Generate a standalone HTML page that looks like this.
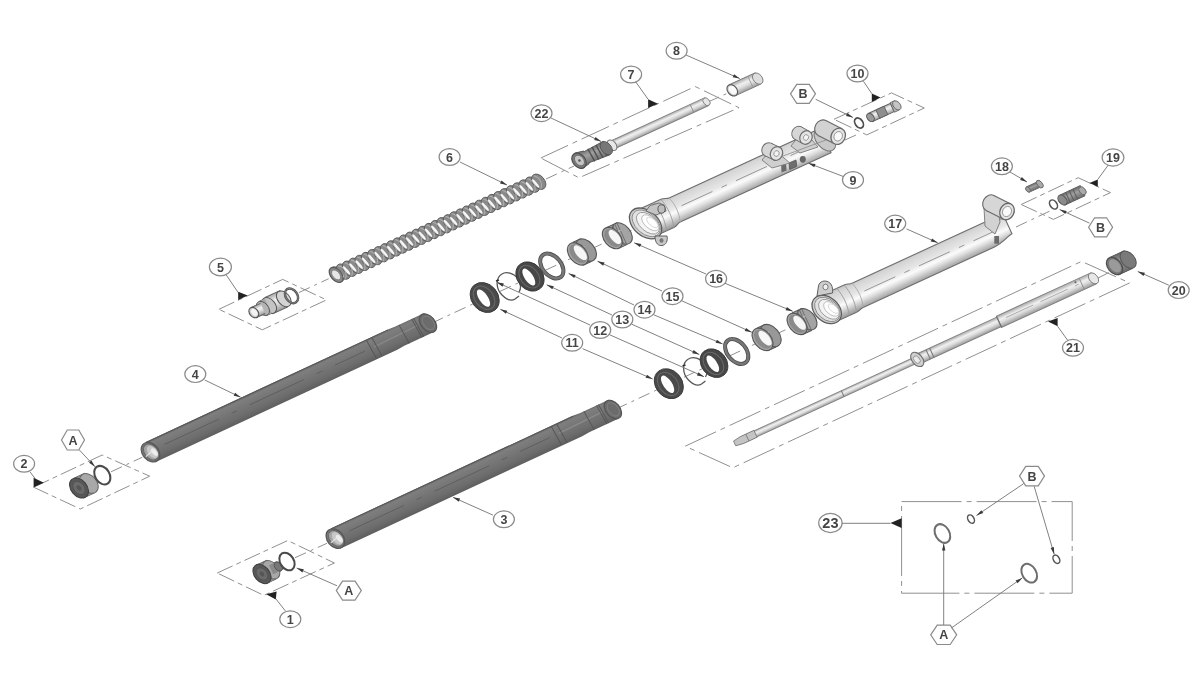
<!DOCTYPE html>
<html><head><meta charset="utf-8"><style>
html,body{margin:0;padding:0;background:#fff;width:1200px;height:685px;overflow:hidden;font-family:"Liberation Sans",sans-serif}
svg{display:block;filter:blur(0.6px)}
</style></head><body>
<svg width="1200" height="685" viewBox="0 0 1200 685" font-family="Liberation Sans, sans-serif">
<defs>
<linearGradient id="dk" x1="0" y1="0" x2="0" y2="1">
<stop offset="0" stop-color="#666"/><stop offset="0.12" stop-color="#7e7e7e"/><stop offset="0.4" stop-color="#767676"/><stop offset="0.75" stop-color="#6c6c6c"/><stop offset="1" stop-color="#5e5e5e"/>
</linearGradient>
<linearGradient id="lt" x1="0" y1="0" x2="0" y2="1">
<stop offset="0" stop-color="#c4c4c4"/><stop offset="0.15" stop-color="#d6d6d6"/><stop offset="0.42" stop-color="#e6e6e6"/><stop offset="0.58" stop-color="#fbfbfb"/><stop offset="0.7" stop-color="#e2e2e2"/><stop offset="0.86" stop-color="#b8b8b8"/><stop offset="1" stop-color="#989898"/>
</linearGradient>
<linearGradient id="ltr" x1="0" y1="0" x2="0" y2="1">
<stop offset="0" stop-color="#a8a8a8"/><stop offset="0.35" stop-color="#f0f0f0"/><stop offset="0.6" stop-color="#dcdcdc"/><stop offset="1" stop-color="#9a9a9a"/>
</linearGradient>
<linearGradient id="gr" x1="0" y1="0" x2="0" y2="1">
<stop offset="0" stop-color="#6a6a6a"/><stop offset="0.4" stop-color="#a0a0a0"/><stop offset="1" stop-color="#6a6a6a"/>
</linearGradient>
</defs>
<rect width="1200" height="685" fill="#fff"/>
<line x1="111" y1="471.8" x2="142.4" y2="457.2" stroke="#909090" stroke-width="1" stroke-dasharray="12 5 3 5"/>
<line x1="295" y1="557.7" x2="327" y2="543.3" stroke="#909090" stroke-width="1" stroke-dasharray="12 5 3 5"/>
<line x1="298.8" y1="292.6" x2="328.7" y2="278.7" stroke="#909090" stroke-width="1" stroke-dasharray="12 5 3 5"/>
<line x1="546" y1="179" x2="574" y2="166" stroke="#909090" stroke-width="1" stroke-dasharray="12 5 3 5"/>
<line x1="708" y1="102" x2="728" y2="93" stroke="#909090" stroke-width="1" stroke-dasharray="12 5 3 5"/>
<line x1="432" y1="323" x2="632" y2="230" stroke="#909090" stroke-width="1" stroke-dasharray="12 5 3 5"/>
<line x1="616" y1="409" x2="815" y2="316" stroke="#909090" stroke-width="1" stroke-dasharray="12 5 3 5"/>
<line x1="845" y1="140" x2="856" y2="135" stroke="#909090" stroke-width="1" stroke-dasharray="12 5 3 5"/>
<line x1="1016" y1="227" x2="1050" y2="211" stroke="#909090" stroke-width="1" stroke-dasharray="12 5 3 5"/>
<line x1="1098" y1="278" x2="1112" y2="271" stroke="#909090" stroke-width="1" stroke-dasharray="12 5 3 5"/>
<polygon points="33.6,487.2 102.2,455 149.7,476.2 80.3,509" fill="none" stroke="#909090" stroke-width="1" stroke-dasharray="17 4 5 4"/>
<polygon points="217.2,573 287.8,540.5 334.4,563 263.8,595.4" fill="none" stroke="#909090" stroke-width="1" stroke-dasharray="17 4 5 4"/>
<polygon points="218.9,309.3 282.7,279.4 326.5,299.9 262.3,329.8" fill="none" stroke="#909090" stroke-width="1" stroke-dasharray="17 4 5 4"/>
<polygon points="540.8,158 695.2,86.5 739,107.7 579,177.8" fill="none" stroke="#909090" stroke-width="1" stroke-dasharray="30 5 5 5"/>
<polygon points="834,119.3 891.5,92.9 924.3,108 866.8,134.9" fill="none" stroke="#909090" stroke-width="1" stroke-dasharray="17 4 5 4"/>
<polygon points="1021.2,204.5 1078.2,177.7 1110.5,192.6 1053.4,219.4" fill="none" stroke="#909090" stroke-width="1" stroke-dasharray="17 4 5 4"/>
<polygon points="685.2,446.2 1081.5,261.4 1129.7,282.9 732.8,467.8" fill="none" stroke="#909090" stroke-width="1" stroke-dasharray="34 5 5 5"/>
<rect x="901.6" y="501.6" width="170.6" height="91.6" fill="none" stroke="#909090" stroke-width="1" stroke-dasharray="60 5 5 5"/>
<g transform="translate(150.5,452.2) rotate(-24.95)">
<path d="M0,-11.2 L267,-11.2 L275,-10.6 L307,-10.6 L307,10.6 L275,10.6 L267,11.2 L0,11.2 Z" fill="url(#dk)"/>
<line x1="0" y1="-10.7" x2="267" y2="-10.7" stroke="#585858" stroke-width="1"/>
<line x1="16" y1="-1.1199999999999999" x2="237" y2="-1.1199999999999999" stroke="#585858" stroke-width="0.7" stroke-dasharray="60 14 6 14"/>
<line x1="247" y1="-1.1199999999999999" x2="295" y2="-2.2399999999999998" stroke="#8a8a8a" stroke-width="1.2"/>
<line x1="243" y1="-10.6" x2="244.5" y2="10.6" stroke="#555" stroke-width="0.9"/>
<line x1="249" y1="-10.6" x2="250.5" y2="10.6" stroke="#555" stroke-width="0.9"/>
<line x1="279" y1="-10.6" x2="280.5" y2="10.6" stroke="#555" stroke-width="0.9"/>
<line x1="293" y1="-10.6" x2="294.5" y2="10.6" stroke="#555" stroke-width="0.9"/>
<line x1="295" y1="-10.6" x2="296.5" y2="10.6" stroke="#555" stroke-width="0.9"/>
<ellipse cx="306.00" cy="0.00" rx="10.60" ry="7.00" transform="rotate(74.7 306.00 0.00)" fill="#6c6c6c" stroke="#555" stroke-width="1.2" />
<ellipse cx="306.50" cy="0.00" rx="7.63" ry="4.88" transform="rotate(74.7 306.50 0.00)" fill="none" stroke="#7e7e7e" stroke-width="1" />
<ellipse cx="0.00" cy="0.00" rx="10.86" ry="8.06" transform="rotate(74.7 0.00 0.00)" fill="#767676" stroke="#555" stroke-width="1.2" />
<ellipse cx="0.50" cy="0.00" rx="8.96" ry="6.27" transform="rotate(74.7 0.50 0.00)" fill="#a4a4a4" stroke="#666" stroke-width="1" />
<ellipse cx="2.00" cy="0.60" rx="7.17" ry="4.48" transform="rotate(74.7 2.00 0.60)" fill="#c8c8c8" stroke="none" stroke-width="1" />
<ellipse cx="3.50" cy="1.60" rx="4.48" ry="2.24" transform="rotate(74.7 3.50 1.60)" fill="#ededed" stroke="none" stroke-width="1" />
<line x1="-6" y1="2" x2="4" y2="-1" stroke="#e8e8e8" stroke-width="1"/>
</g>
<g transform="translate(335.4,538.6) rotate(-24.95)">
<path d="M0,-11.2 L267,-11.2 L275,-10.6 L307,-10.6 L307,10.6 L275,10.6 L267,11.2 L0,11.2 Z" fill="url(#dk)"/>
<line x1="0" y1="-10.7" x2="267" y2="-10.7" stroke="#585858" stroke-width="1"/>
<line x1="16" y1="-1.1199999999999999" x2="237" y2="-1.1199999999999999" stroke="#585858" stroke-width="0.7" stroke-dasharray="60 14 6 14"/>
<line x1="247" y1="-1.1199999999999999" x2="295" y2="-2.2399999999999998" stroke="#8a8a8a" stroke-width="1.2"/>
<line x1="243" y1="-10.6" x2="244.5" y2="10.6" stroke="#555" stroke-width="0.9"/>
<line x1="249" y1="-10.6" x2="250.5" y2="10.6" stroke="#555" stroke-width="0.9"/>
<line x1="279" y1="-10.6" x2="280.5" y2="10.6" stroke="#555" stroke-width="0.9"/>
<line x1="293" y1="-10.6" x2="294.5" y2="10.6" stroke="#555" stroke-width="0.9"/>
<line x1="295" y1="-10.6" x2="296.5" y2="10.6" stroke="#555" stroke-width="0.9"/>
<ellipse cx="306.00" cy="0.00" rx="10.60" ry="7.00" transform="rotate(74.7 306.00 0.00)" fill="#6c6c6c" stroke="#555" stroke-width="1.2" />
<ellipse cx="306.50" cy="0.00" rx="7.63" ry="4.88" transform="rotate(74.7 306.50 0.00)" fill="none" stroke="#7e7e7e" stroke-width="1" />
<ellipse cx="0.00" cy="0.00" rx="10.86" ry="8.06" transform="rotate(74.7 0.00 0.00)" fill="#767676" stroke="#555" stroke-width="1.2" />
<ellipse cx="0.50" cy="0.00" rx="8.96" ry="6.27" transform="rotate(74.7 0.50 0.00)" fill="#a4a4a4" stroke="#666" stroke-width="1" />
<ellipse cx="2.00" cy="0.60" rx="7.17" ry="4.48" transform="rotate(74.7 2.00 0.60)" fill="#c8c8c8" stroke="none" stroke-width="1" />
<ellipse cx="3.50" cy="1.60" rx="4.48" ry="2.24" transform="rotate(74.7 3.50 1.60)" fill="#ededed" stroke="none" stroke-width="1" />
<line x1="-6" y1="2" x2="4" y2="-1" stroke="#e8e8e8" stroke-width="1"/>
</g>
<g transform="translate(337,274.5) rotate(-24.7)">
<ellipse cx="0.00" cy="0.00" rx="8.70" ry="5.90" transform="rotate(74.7 0.00 0.00)" fill="#8a8a8a" stroke="#5a5a5a" stroke-width="0.9" />
<ellipse cx="6.94" cy="0.00" rx="8.70" ry="5.90" transform="rotate(74.7 6.94 0.00)" fill="#8a8a8a" stroke="#5a5a5a" stroke-width="0.9" />
<ellipse cx="13.88" cy="0.00" rx="8.70" ry="5.90" transform="rotate(74.7 13.88 0.00)" fill="#8a8a8a" stroke="#5a5a5a" stroke-width="0.9" />
<ellipse cx="20.81" cy="0.00" rx="8.70" ry="5.90" transform="rotate(74.7 20.81 0.00)" fill="#8a8a8a" stroke="#5a5a5a" stroke-width="0.9" />
<ellipse cx="27.75" cy="0.00" rx="8.70" ry="5.90" transform="rotate(74.7 27.75 0.00)" fill="#8a8a8a" stroke="#5a5a5a" stroke-width="0.9" />
<ellipse cx="34.69" cy="0.00" rx="8.70" ry="5.90" transform="rotate(74.7 34.69 0.00)" fill="#8a8a8a" stroke="#5a5a5a" stroke-width="0.9" />
<ellipse cx="41.62" cy="0.00" rx="8.70" ry="5.90" transform="rotate(74.7 41.62 0.00)" fill="#8a8a8a" stroke="#5a5a5a" stroke-width="0.9" />
<ellipse cx="48.56" cy="0.00" rx="8.70" ry="5.90" transform="rotate(74.7 48.56 0.00)" fill="#8a8a8a" stroke="#5a5a5a" stroke-width="0.9" />
<ellipse cx="55.50" cy="0.00" rx="8.70" ry="5.90" transform="rotate(74.7 55.50 0.00)" fill="#8a8a8a" stroke="#5a5a5a" stroke-width="0.9" />
<ellipse cx="62.44" cy="0.00" rx="8.70" ry="5.90" transform="rotate(74.7 62.44 0.00)" fill="#8a8a8a" stroke="#5a5a5a" stroke-width="0.9" />
<ellipse cx="69.38" cy="0.00" rx="8.70" ry="5.90" transform="rotate(74.7 69.38 0.00)" fill="#8a8a8a" stroke="#5a5a5a" stroke-width="0.9" />
<ellipse cx="76.31" cy="0.00" rx="8.70" ry="5.90" transform="rotate(74.7 76.31 0.00)" fill="#8a8a8a" stroke="#5a5a5a" stroke-width="0.9" />
<ellipse cx="83.25" cy="0.00" rx="8.70" ry="5.90" transform="rotate(74.7 83.25 0.00)" fill="#8a8a8a" stroke="#5a5a5a" stroke-width="0.9" />
<ellipse cx="90.19" cy="0.00" rx="8.70" ry="5.90" transform="rotate(74.7 90.19 0.00)" fill="#8a8a8a" stroke="#5a5a5a" stroke-width="0.9" />
<ellipse cx="97.12" cy="0.00" rx="8.70" ry="5.90" transform="rotate(74.7 97.12 0.00)" fill="#8a8a8a" stroke="#5a5a5a" stroke-width="0.9" />
<ellipse cx="104.06" cy="0.00" rx="8.70" ry="5.90" transform="rotate(74.7 104.06 0.00)" fill="#8a8a8a" stroke="#5a5a5a" stroke-width="0.9" />
<ellipse cx="111.00" cy="0.00" rx="8.70" ry="5.90" transform="rotate(74.7 111.00 0.00)" fill="#8a8a8a" stroke="#5a5a5a" stroke-width="0.9" />
<ellipse cx="117.94" cy="0.00" rx="8.70" ry="5.90" transform="rotate(74.7 117.94 0.00)" fill="#8a8a8a" stroke="#5a5a5a" stroke-width="0.9" />
<ellipse cx="124.88" cy="0.00" rx="8.70" ry="5.90" transform="rotate(74.7 124.88 0.00)" fill="#8a8a8a" stroke="#5a5a5a" stroke-width="0.9" />
<ellipse cx="131.81" cy="0.00" rx="8.70" ry="5.90" transform="rotate(74.7 131.81 0.00)" fill="#8a8a8a" stroke="#5a5a5a" stroke-width="0.9" />
<ellipse cx="138.75" cy="0.00" rx="8.70" ry="5.90" transform="rotate(74.7 138.75 0.00)" fill="#8a8a8a" stroke="#5a5a5a" stroke-width="0.9" />
<ellipse cx="145.69" cy="0.00" rx="8.70" ry="5.90" transform="rotate(74.7 145.69 0.00)" fill="#8a8a8a" stroke="#5a5a5a" stroke-width="0.9" />
<ellipse cx="152.62" cy="0.00" rx="8.70" ry="5.90" transform="rotate(74.7 152.62 0.00)" fill="#8a8a8a" stroke="#5a5a5a" stroke-width="0.9" />
<ellipse cx="159.56" cy="0.00" rx="8.70" ry="5.90" transform="rotate(74.7 159.56 0.00)" fill="#8a8a8a" stroke="#5a5a5a" stroke-width="0.9" />
<ellipse cx="166.50" cy="0.00" rx="8.70" ry="5.90" transform="rotate(74.7 166.50 0.00)" fill="#8a8a8a" stroke="#5a5a5a" stroke-width="0.9" />
<ellipse cx="173.44" cy="0.00" rx="8.70" ry="5.90" transform="rotate(74.7 173.44 0.00)" fill="#8a8a8a" stroke="#5a5a5a" stroke-width="0.9" />
<ellipse cx="180.38" cy="0.00" rx="8.70" ry="5.90" transform="rotate(74.7 180.38 0.00)" fill="#8a8a8a" stroke="#5a5a5a" stroke-width="0.9" />
<ellipse cx="187.31" cy="0.00" rx="8.70" ry="5.90" transform="rotate(74.7 187.31 0.00)" fill="#8a8a8a" stroke="#5a5a5a" stroke-width="0.9" />
<ellipse cx="194.25" cy="0.00" rx="8.70" ry="5.90" transform="rotate(74.7 194.25 0.00)" fill="#8a8a8a" stroke="#5a5a5a" stroke-width="0.9" />
<ellipse cx="201.19" cy="0.00" rx="8.70" ry="5.90" transform="rotate(74.7 201.19 0.00)" fill="#8a8a8a" stroke="#5a5a5a" stroke-width="0.9" />
<ellipse cx="208.12" cy="0.00" rx="8.70" ry="5.90" transform="rotate(74.7 208.12 0.00)" fill="#8a8a8a" stroke="#5a5a5a" stroke-width="0.9" />
<ellipse cx="215.06" cy="0.00" rx="8.70" ry="5.90" transform="rotate(74.7 215.06 0.00)" fill="#8a8a8a" stroke="#5a5a5a" stroke-width="0.9" />
<ellipse cx="222.00" cy="0.00" rx="8.70" ry="5.90" transform="rotate(74.7 222.00 0.00)" fill="#8a8a8a" stroke="#5a5a5a" stroke-width="0.9" />
<path d="M-2.1,-7.499999999999999 C3.5,-3.5 2.8,4.3 -1.4,7.499999999999999" fill="none" stroke="#adadad" stroke-width="1.1"/>
<path d="M4.9,-7.499999999999999 C10.4,-3.5 9.7,4.3 5.5,7.499999999999999" fill="none" stroke="#adadad" stroke-width="1.1"/>
<path d="M11.8,-7.499999999999999 C17.3,-3.5 16.6,4.3 12.5,7.499999999999999" fill="none" stroke="#adadad" stroke-width="1.1"/>
<path d="M18.7,-7.499999999999999 C24.3,-3.5 23.6,4.3 19.4,7.499999999999999" fill="none" stroke="#adadad" stroke-width="1.1"/>
<path d="M25.7,-7.499999999999999 C31.2,-3.5 30.5,4.3 26.4,7.499999999999999" fill="none" stroke="#adadad" stroke-width="1.1"/>
<path d="M32.6,-7.499999999999999 C38.2,-3.5 37.5,4.3 33.3,7.499999999999999" fill="none" stroke="#adadad" stroke-width="1.1"/>
<path d="M39.5,-7.499999999999999 C45.1,-3.5 44.4,4.3 40.2,7.499999999999999" fill="none" stroke="#adadad" stroke-width="1.1"/>
<path d="M46.5,-7.499999999999999 C52.0,-3.5 51.3,4.3 47.2,7.499999999999999" fill="none" stroke="#adadad" stroke-width="1.1"/>
<path d="M53.4,-7.499999999999999 C59.0,-3.5 58.3,4.3 54.1,7.499999999999999" fill="none" stroke="#adadad" stroke-width="1.1"/>
<path d="M60.4,-7.499999999999999 C65.9,-3.5 65.2,4.3 61.0,7.499999999999999" fill="none" stroke="#adadad" stroke-width="1.1"/>
<path d="M67.3,-7.499999999999999 C72.8,-3.5 72.2,4.3 68.0,7.499999999999999" fill="none" stroke="#adadad" stroke-width="1.1"/>
<path d="M74.2,-7.499999999999999 C79.8,-3.5 79.1,4.3 74.9,7.499999999999999" fill="none" stroke="#adadad" stroke-width="1.1"/>
<path d="M81.2,-7.499999999999999 C86.7,-3.5 86.0,4.3 81.9,7.499999999999999" fill="none" stroke="#adadad" stroke-width="1.1"/>
<path d="M88.1,-7.499999999999999 C93.7,-3.5 93.0,4.3 88.8,7.499999999999999" fill="none" stroke="#adadad" stroke-width="1.1"/>
<path d="M95.0,-7.499999999999999 C100.6,-3.5 99.9,4.3 95.7,7.499999999999999" fill="none" stroke="#adadad" stroke-width="1.1"/>
<path d="M102.0,-7.499999999999999 C107.5,-3.5 106.8,4.3 102.7,7.499999999999999" fill="none" stroke="#adadad" stroke-width="1.1"/>
<path d="M108.9,-7.499999999999999 C114.5,-3.5 113.8,4.3 109.6,7.499999999999999" fill="none" stroke="#adadad" stroke-width="1.1"/>
<path d="M115.9,-7.499999999999999 C121.4,-3.5 120.7,4.3 116.5,7.499999999999999" fill="none" stroke="#adadad" stroke-width="1.1"/>
<path d="M122.8,-7.499999999999999 C128.3,-3.5 127.7,4.3 123.5,7.499999999999999" fill="none" stroke="#adadad" stroke-width="1.1"/>
<path d="M129.7,-7.499999999999999 C135.3,-3.5 134.6,4.3 130.4,7.499999999999999" fill="none" stroke="#adadad" stroke-width="1.1"/>
<path d="M136.7,-7.499999999999999 C142.2,-3.5 141.5,4.3 137.4,7.499999999999999" fill="none" stroke="#adadad" stroke-width="1.1"/>
<path d="M143.6,-7.499999999999999 C149.2,-3.5 148.5,4.3 144.3,7.499999999999999" fill="none" stroke="#adadad" stroke-width="1.1"/>
<path d="M150.5,-7.499999999999999 C156.1,-3.5 155.4,4.3 151.2,7.499999999999999" fill="none" stroke="#adadad" stroke-width="1.1"/>
<path d="M157.5,-7.499999999999999 C163.0,-3.5 162.3,4.3 158.2,7.499999999999999" fill="none" stroke="#adadad" stroke-width="1.1"/>
<path d="M164.4,-7.499999999999999 C170.0,-3.5 169.3,4.3 165.1,7.499999999999999" fill="none" stroke="#adadad" stroke-width="1.1"/>
<path d="M171.4,-7.499999999999999 C176.9,-3.5 176.2,4.3 172.1,7.499999999999999" fill="none" stroke="#adadad" stroke-width="1.1"/>
<path d="M178.3,-7.499999999999999 C183.8,-3.5 183.2,4.3 179.0,7.499999999999999" fill="none" stroke="#adadad" stroke-width="1.1"/>
<path d="M185.2,-7.499999999999999 C190.8,-3.5 190.1,4.3 185.9,7.499999999999999" fill="none" stroke="#adadad" stroke-width="1.1"/>
<path d="M192.2,-7.499999999999999 C197.7,-3.5 197.0,4.3 192.9,7.499999999999999" fill="none" stroke="#adadad" stroke-width="1.1"/>
<path d="M199.1,-7.499999999999999 C204.7,-3.5 204.0,4.3 199.8,7.499999999999999" fill="none" stroke="#adadad" stroke-width="1.1"/>
<path d="M206.0,-7.499999999999999 C211.6,-3.5 210.9,4.3 206.7,7.499999999999999" fill="none" stroke="#adadad" stroke-width="1.1"/>
<path d="M213.0,-7.499999999999999 C218.5,-3.5 217.8,4.3 213.7,7.499999999999999" fill="none" stroke="#adadad" stroke-width="1.1"/>
<path d="M219.9,-7.499999999999999 C225.5,-3.5 224.8,4.3 220.6,7.499999999999999" fill="none" stroke="#adadad" stroke-width="1.1"/>
<ellipse cx="3.47" cy="0.30" rx="5.39" ry="1.25" transform="rotate(74.7 3.47 0.30)" fill="#f6f6f6" stroke="none" stroke-width="1" />
<ellipse cx="10.41" cy="0.30" rx="5.39" ry="1.25" transform="rotate(74.7 10.41 0.30)" fill="#f6f6f6" stroke="none" stroke-width="1" />
<ellipse cx="17.34" cy="0.30" rx="5.39" ry="1.25" transform="rotate(74.7 17.34 0.30)" fill="#f6f6f6" stroke="none" stroke-width="1" />
<ellipse cx="24.28" cy="0.30" rx="5.39" ry="1.25" transform="rotate(74.7 24.28 0.30)" fill="#f6f6f6" stroke="none" stroke-width="1" />
<ellipse cx="31.22" cy="0.30" rx="5.39" ry="1.25" transform="rotate(74.7 31.22 0.30)" fill="#f6f6f6" stroke="none" stroke-width="1" />
<ellipse cx="38.16" cy="0.30" rx="5.39" ry="1.25" transform="rotate(74.7 38.16 0.30)" fill="#f6f6f6" stroke="none" stroke-width="1" />
<ellipse cx="45.09" cy="0.30" rx="5.39" ry="1.25" transform="rotate(74.7 45.09 0.30)" fill="#f6f6f6" stroke="none" stroke-width="1" />
<ellipse cx="52.03" cy="0.30" rx="5.39" ry="1.25" transform="rotate(74.7 52.03 0.30)" fill="#f6f6f6" stroke="none" stroke-width="1" />
<ellipse cx="58.97" cy="0.30" rx="5.39" ry="1.25" transform="rotate(74.7 58.97 0.30)" fill="#f6f6f6" stroke="none" stroke-width="1" />
<ellipse cx="65.91" cy="0.30" rx="5.39" ry="1.25" transform="rotate(74.7 65.91 0.30)" fill="#f6f6f6" stroke="none" stroke-width="1" />
<ellipse cx="72.84" cy="0.30" rx="5.39" ry="1.25" transform="rotate(74.7 72.84 0.30)" fill="#f6f6f6" stroke="none" stroke-width="1" />
<ellipse cx="79.78" cy="0.30" rx="5.39" ry="1.25" transform="rotate(74.7 79.78 0.30)" fill="#f6f6f6" stroke="none" stroke-width="1" />
<ellipse cx="86.72" cy="0.30" rx="5.39" ry="1.25" transform="rotate(74.7 86.72 0.30)" fill="#f6f6f6" stroke="none" stroke-width="1" />
<ellipse cx="93.66" cy="0.30" rx="5.39" ry="1.25" transform="rotate(74.7 93.66 0.30)" fill="#f6f6f6" stroke="none" stroke-width="1" />
<ellipse cx="100.59" cy="0.30" rx="5.39" ry="1.25" transform="rotate(74.7 100.59 0.30)" fill="#f6f6f6" stroke="none" stroke-width="1" />
<ellipse cx="107.53" cy="0.30" rx="5.39" ry="1.25" transform="rotate(74.7 107.53 0.30)" fill="#f6f6f6" stroke="none" stroke-width="1" />
<ellipse cx="114.47" cy="0.30" rx="5.39" ry="1.25" transform="rotate(74.7 114.47 0.30)" fill="#f6f6f6" stroke="none" stroke-width="1" />
<ellipse cx="121.41" cy="0.30" rx="5.39" ry="1.25" transform="rotate(74.7 121.41 0.30)" fill="#f6f6f6" stroke="none" stroke-width="1" />
<ellipse cx="128.34" cy="0.30" rx="5.39" ry="1.25" transform="rotate(74.7 128.34 0.30)" fill="#f6f6f6" stroke="none" stroke-width="1" />
<ellipse cx="135.28" cy="0.30" rx="5.39" ry="1.25" transform="rotate(74.7 135.28 0.30)" fill="#f6f6f6" stroke="none" stroke-width="1" />
<ellipse cx="142.22" cy="0.30" rx="5.39" ry="1.25" transform="rotate(74.7 142.22 0.30)" fill="#f6f6f6" stroke="none" stroke-width="1" />
<ellipse cx="149.16" cy="0.30" rx="5.39" ry="1.25" transform="rotate(74.7 149.16 0.30)" fill="#f6f6f6" stroke="none" stroke-width="1" />
<ellipse cx="156.09" cy="0.30" rx="5.39" ry="1.25" transform="rotate(74.7 156.09 0.30)" fill="#f6f6f6" stroke="none" stroke-width="1" />
<ellipse cx="163.03" cy="0.30" rx="5.39" ry="1.25" transform="rotate(74.7 163.03 0.30)" fill="#f6f6f6" stroke="none" stroke-width="1" />
<ellipse cx="169.97" cy="0.30" rx="5.39" ry="1.25" transform="rotate(74.7 169.97 0.30)" fill="#f6f6f6" stroke="none" stroke-width="1" />
<ellipse cx="176.91" cy="0.30" rx="5.39" ry="1.25" transform="rotate(74.7 176.91 0.30)" fill="#f6f6f6" stroke="none" stroke-width="1" />
<ellipse cx="183.84" cy="0.30" rx="5.39" ry="1.25" transform="rotate(74.7 183.84 0.30)" fill="#f6f6f6" stroke="none" stroke-width="1" />
<ellipse cx="190.78" cy="0.30" rx="5.39" ry="1.25" transform="rotate(74.7 190.78 0.30)" fill="#f6f6f6" stroke="none" stroke-width="1" />
<ellipse cx="197.72" cy="0.30" rx="5.39" ry="1.25" transform="rotate(74.7 197.72 0.30)" fill="#f6f6f6" stroke="none" stroke-width="1" />
<ellipse cx="204.66" cy="0.30" rx="5.39" ry="1.25" transform="rotate(74.7 204.66 0.30)" fill="#f6f6f6" stroke="none" stroke-width="1" />
<ellipse cx="211.59" cy="0.30" rx="5.39" ry="1.25" transform="rotate(74.7 211.59 0.30)" fill="#f6f6f6" stroke="none" stroke-width="1" />
<ellipse cx="218.53" cy="0.30" rx="5.39" ry="1.25" transform="rotate(74.7 218.53 0.30)" fill="#f6f6f6" stroke="none" stroke-width="1" />
<ellipse cx="-1.00" cy="0.00" rx="8.70" ry="5.39" transform="rotate(74.7 -1.00 0.00)" fill="#8a8a8a" stroke="#555" stroke-width="1.1" />
<ellipse cx="-1.00" cy="0.00" rx="5.74" ry="3.48" transform="rotate(74.7 -1.00 0.00)" fill="#e6e6e6" stroke="#777" stroke-width="0.8" />
</g>
<g transform="translate(645.6,223.4) rotate(-24.7)">
<path d="M0,-15.5 L24,-15.5 C28,-15.5 29,-13.3 32,-13.3 L198,-13.3 L198,13.3 L32,13.3 C29,13.3 28,15.5 24,15.5 L0,15.5 Z" fill="url(#lt)" stroke="#6e6e6e" stroke-width="1.1"/>
<line x1="40" y1="-1.064" x2="184" y2="-1.064" stroke="#8a8a8a" stroke-width="0.8" stroke-dasharray="34 10 6 10"/>
<path d="M16,-15.5 C19,-4.6499999999999995 19,4.6499999999999995 16,15.5" fill="none" stroke="#999" stroke-width="0.8"/>
<path d="M24,-15.5 C27,-4.6499999999999995 27,4.6499999999999995 24,15.5" fill="none" stroke="#9a9a9a" stroke-width="0.8"/>
<path d="M32,-13.3 C35,-3.99 35,3.99 32,13.3" fill="none" stroke="#a8a8a8" stroke-width="0.8"/>
<ellipse cx="0.00" cy="0.00" rx="18.50" ry="12.50" transform="rotate(66 0.00 0.00)" fill="#cfcfcf" stroke="#5e5e5e" stroke-width="1.3"/>
<ellipse cx="0.60" cy="0.20" rx="16.28" ry="10.50" transform="rotate(66 0.60 0.20)" fill="#e2e2e2" stroke="#888" stroke-width="0.9"/>
<ellipse cx="2.20" cy="0.80" rx="13.69" ry="8.00" transform="rotate(66 2.20 0.80)" fill="#f4f4f4" stroke="#9a9a9a" stroke-width="0.9"/>
<ellipse cx="4.50" cy="1.40" rx="10.36" ry="5.50" transform="rotate(66 4.50 1.40)" fill="#fff" stroke="#b4b4b4" stroke-width="0.8"/>
<ellipse cx="6.50" cy="2.00" rx="7.03" ry="3.25" transform="rotate(66 6.50 2.00)" fill="#fff" stroke="#c8c8c8" stroke-width="0.7"/>
</g>
<g transform="translate(645,222.2) rotate(-24.7)">
<ellipse cx="198.00" cy="0.00" rx="13.30" ry="8.50" transform="rotate(74.7 198.00 0.00)" fill="#c8c8c8" stroke="#777" stroke-width="1" />
</g>
<path d="M646,211 L650,205.5 L659,203 L664,205 L666,211 L656,215 Z" fill="#c4c4c4" stroke="#666" stroke-width="0.9"/>
<ellipse cx="661.5" cy="209" rx="3.6" ry="4.2" fill="#bdbdbd" stroke="#555" stroke-width="0.9"/>
<path d="M655,236 C655,244 659,246 662,245.5 C666,245 668,241 667,236 Z" fill="#c8c8c8" stroke="#5e5e5e" stroke-width="1"/>
<ellipse cx="661.5" cy="240.5" rx="2" ry="2.2" fill="#777"/>
<polygon points="781,162 786,160 786.5,170.5 781.5,172.5" fill="#6a6a6a"/>
<polygon points="789,163 796,160 796.7,166.5 789.7,169.5" fill="#6e6e6e" stroke="#555" stroke-width="0.8"/>
<ellipse cx="802.8" cy="159.3" rx="3" ry="3.4" fill="#666"/>
<polygon points="762,160 772,148 784,158 790,163 772,168" fill="#cfcfcf" stroke="#7a7a7a" stroke-width="0.9"/>
<polygon points="791,146 802,132 812,140 818,147 800,153" fill="#cfcfcf" stroke="#7a7a7a" stroke-width="0.9"/>
<ellipse cx="768" cy="149.5" rx="7" ry="6" transform="rotate(115.2 768 149.5)" fill="#d6d6d6" stroke="#6e6e6e" stroke-width="1"/>
<polygon points="765.0,155.8 773.5,159.8 779.5,147.2 771.0,143.2" fill="#d6d6d6"/>
<line x1="765.0" y1="155.8" x2="773.5" y2="159.8" stroke="#6e6e6e" stroke-width="1"/>
<line x1="771.0" y1="143.2" x2="779.5" y2="147.2" stroke="#6e6e6e" stroke-width="1"/>
<ellipse cx="776.5" cy="153.5" rx="7" ry="6" transform="rotate(115.2 776.5 153.5)" fill="#e4e4e4" stroke="#6e6e6e" stroke-width="1.2"/>
<ellipse cx="776.5" cy="153.5" rx="2.94" ry="2.52" transform="rotate(115.2 776.5 153.5)" fill="#f4f4f4" stroke="#8a8a8a" stroke-width="0.8"/>
<ellipse cx="798" cy="133" rx="7" ry="6" transform="rotate(119.4 798 133)" fill="#d6d6d6" stroke="#6e6e6e" stroke-width="1"/>
<polygon points="794.6,139.1 802.6,143.6 809.4,131.4 801.4,126.9" fill="#d6d6d6"/>
<line x1="794.6" y1="139.1" x2="802.6" y2="143.6" stroke="#6e6e6e" stroke-width="1"/>
<line x1="801.4" y1="126.9" x2="809.4" y2="131.4" stroke="#6e6e6e" stroke-width="1"/>
<ellipse cx="806" cy="137.5" rx="7" ry="6" transform="rotate(119.4 806 137.5)" fill="#e4e4e4" stroke="#6e6e6e" stroke-width="1.2"/>
<ellipse cx="806" cy="137.5" rx="2.94" ry="2.52" transform="rotate(119.4 806 137.5)" fill="#f4f4f4" stroke="#8a8a8a" stroke-width="0.8"/>
<line x1="783" y1="156" x2="826" y2="140" stroke="#8a8a8a" stroke-width="0.8"/>
<ellipse cx="822" cy="128" rx="8.4" ry="7" transform="rotate(117.1 822 128)" fill="#d2d2d2" stroke="#6a6a6a" stroke-width="1.1"/>
<polygon points="818.2,135.5 834.4,143.8 842.0,128.8 825.8,120.5" fill="#d2d2d2"/>
<line x1="818.2" y1="135.5" x2="834.4" y2="143.8" stroke="#6a6a6a" stroke-width="1.1"/>
<line x1="825.8" y1="120.5" x2="842.0" y2="128.8" stroke="#6a6a6a" stroke-width="1.1"/>
<ellipse cx="838.2" cy="136.3" rx="8.4" ry="7" transform="rotate(117.1 838.2 136.3)" fill="#e4e4e4" stroke="#6a6a6a" stroke-width="1.32"/>
<ellipse cx="838.2" cy="136.3" rx="4.87" ry="4.06" transform="rotate(117.1 838.2 136.3)" fill="#fafafa" stroke="#8a8a8a" stroke-width="0.8"/>
<g transform="translate(826.7,309.5) rotate(-24.7)">
<path d="M0,-15 L26,-15 C30,-15 31,-13.3 34,-13.3 L178,-13.3 C189.0,-13.3 196,-8.5 200,-8.5 L200,8.5 C196,8.5 189.0,13.3 178,13.3 L34,13.3 C31,13.3 30,15 26,15 L0,15 Z" fill="url(#lt)" stroke="#6e6e6e" stroke-width="1.1"/>
<line x1="42" y1="-1.064" x2="186" y2="-1.064" stroke="#8a8a8a" stroke-width="0.8" stroke-dasharray="34 10 6 10"/>
<path d="M18,-15 C21,-4.5 21,4.5 18,15" fill="none" stroke="#999" stroke-width="0.8"/>
<path d="M26,-15 C29,-4.5 29,4.5 26,15" fill="none" stroke="#9a9a9a" stroke-width="0.8"/>
<path d="M34,-13.3 C37,-3.99 37,3.99 34,13.3" fill="none" stroke="#a8a8a8" stroke-width="0.8"/>
<ellipse cx="0.00" cy="0.00" rx="16.50" ry="12.00" transform="rotate(66 0.00 0.00)" fill="#cfcfcf" stroke="#5e5e5e" stroke-width="1.3"/>
<ellipse cx="0.60" cy="0.20" rx="14.52" ry="10.08" transform="rotate(66 0.60 0.20)" fill="#e2e2e2" stroke="#888" stroke-width="0.9"/>
<ellipse cx="2.20" cy="0.80" rx="12.21" ry="7.68" transform="rotate(66 2.20 0.80)" fill="#f4f4f4" stroke="#9a9a9a" stroke-width="0.9"/>
<ellipse cx="4.50" cy="1.40" rx="9.24" ry="5.28" transform="rotate(66 4.50 1.40)" fill="#fff" stroke="#b4b4b4" stroke-width="0.8"/>
<ellipse cx="6.50" cy="2.00" rx="6.27" ry="3.12" transform="rotate(66 6.50 2.00)" fill="#fff" stroke="#c8c8c8" stroke-width="0.7"/>
</g>
<path d="M817,296 L818.5,286 C819.5,281 825,280 828.5,282 C832,284 833,288 832.5,293 Z" fill="#cdcdcd" stroke="#5e5e5e" stroke-width="1"/>
<ellipse cx="825.5" cy="287" rx="2.6" ry="2.8" fill="#f0f0f0" stroke="#666" stroke-width="0.8"/>
<polygon points="985,226 984,208 998,210 1000,222 995,234" fill="#d2d2d2" stroke="#777" stroke-width="0.9"/>
<ellipse cx="990" cy="203" rx="8.5" ry="7" transform="rotate(116.6 990 203)" fill="#d6d6d6" stroke="#6a6a6a" stroke-width="1.1"/>
<polygon points="986.2,210.6 1003.2,219.1 1010.8,203.9 993.8,195.4" fill="#d6d6d6"/>
<line x1="986.2" y1="210.6" x2="1003.2" y2="219.1" stroke="#6a6a6a" stroke-width="1.1"/>
<line x1="993.8" y1="195.4" x2="1010.8" y2="203.9" stroke="#6a6a6a" stroke-width="1.1"/>
<ellipse cx="1007" cy="211.5" rx="8.5" ry="7" transform="rotate(116.6 1007 211.5)" fill="#e4e4e4" stroke="#6a6a6a" stroke-width="1.32"/>
<ellipse cx="1007" cy="211.5" rx="5.27" ry="4.34" transform="rotate(116.6 1007 211.5)" fill="#fafafa" stroke="#8a8a8a" stroke-width="0.8"/>
<rect x="994.3" y="236" width="4.7" height="7.7" fill="#6a6a6a"/>
<g transform="translate(612,145.2) rotate(-24.7)">
<rect x="0" y="-4.4" width="104" height="8.8" fill="url(#ltr)" stroke="#7e7e7e" stroke-width="0.9"/>
<line x1="88" y1="-4.4" x2="88" y2="4.4" stroke="#8a8a8a" stroke-width="0.8"/>
<ellipse cx="104.00" cy="0.00" rx="4.40" ry="3.00" transform="rotate(74.7 104.00 0.00)" fill="#e6e6e6" stroke="#7e7e7e" stroke-width="0.9" />
<ellipse cx="0.00" cy="0.00" rx="6.00" ry="4.00" transform="rotate(74.7 0.00 0.00)" fill="#e8e8e8" stroke="#777" stroke-width="1" />
</g>
<g transform="translate(579,160.7) rotate(-24.7)">
<path d="M0,-8.5 L8,-7 L8,-6 L30,-7.5 L30,7.5 L8,6 L8,7 L0,8.5 Z" fill="url(#gr)" stroke="#5a5a5a" stroke-width="0.9"/>
<line x1="13" y1="-7.2" x2="14" y2="7.2" stroke="#505050" stroke-width="1.4"/>
<line x1="17.5" y1="-7.2" x2="18.5" y2="7.2" stroke="#505050" stroke-width="1.4"/>
<line x1="22" y1="-7.2" x2="23" y2="7.2" stroke="#505050" stroke-width="1.4"/>
<line x1="26.5" y1="-7.2" x2="27.5" y2="7.2" stroke="#505050" stroke-width="1.4"/>
<ellipse cx="30.00" cy="0.00" rx="7.50" ry="5.00" transform="rotate(74.7 30.00 0.00)" fill="#777" stroke="#555" stroke-width="0.9" />
<ellipse cx="0.00" cy="0.00" rx="8.50" ry="6.20" transform="rotate(74.7 0.00 0.00)" fill="#7a7a7a" stroke="#4e4e4e" stroke-width="1.2" />
<ellipse cx="0.50" cy="0.00" rx="6.00" ry="4.20" transform="rotate(74.7 0.50 0.00)" fill="#c4c4c4" stroke="#666" stroke-width="0.8" />
<circle cx="0.5" cy="0" r="1.3" fill="#555"/>
</g>
<g transform="translate(732.3,90.3) rotate(-24.7)">
<rect x="0" y="-6.3" width="28" height="12.6" fill="url(#ltr)" stroke="#7a7a7a" stroke-width="0.9"/>
<line x1="20" y1="-6.3" x2="20" y2="6.3" stroke="#999" stroke-width="0.8"/>
<ellipse cx="28.00" cy="0.00" rx="6.30" ry="4.40" transform="rotate(74.7 28.00 0.00)" fill="#dedede" stroke="#7a7a7a" stroke-width="0.9" />
<ellipse cx="0.00" cy="0.00" rx="6.30" ry="4.60" transform="rotate(74.7 0.00 0.00)" fill="#d6d6d6" stroke="#5e5e5e" stroke-width="1.2" />
<ellipse cx="0.50" cy="0.00" rx="4.60" ry="3.20" transform="rotate(74.7 0.50 0.00)" fill="#fafafa" stroke="none" stroke-width="1" />
</g>
<g transform="translate(870.5,117.5) rotate(-24.7)">
<rect x="0" y="-4.6" width="24" height="9.2" fill="url(#ltr)" stroke="#5e5e5e" stroke-width="0.9"/>
<rect x="8" y="-4.6" width="9" height="9.2" fill="#8e8e8e" stroke="#5e5e5e" stroke-width="0.8"/>
<rect x="24" y="-5.2" width="5" height="10.4" fill="#b4b4b4" stroke="#666" stroke-width="0.8"/>
<ellipse cx="29.00" cy="0.00" rx="5.20" ry="3.40" transform="rotate(74.7 29.00 0.00)" fill="#c4c4c4" stroke="#666" stroke-width="0.9" />
<ellipse cx="0.00" cy="0.00" rx="4.60" ry="3.20" transform="rotate(74.7 0.00 0.00)" fill="#9a9a9a" stroke="#555" stroke-width="1" />
</g>
<ellipse cx="859" cy="123" rx="5.5" ry="3.8" transform="rotate(55 859 123)" fill="none" stroke="#4e4e4e" stroke-width="1.8"/>
<g transform="translate(1062.5,200) rotate(-24.7)">
<rect x="0" y="-5.6" width="22" height="11.2" fill="url(#gr)" stroke="#5e5e5e" stroke-width="0.9"/>
<line x1="6" y1="-5.6" x2="6" y2="5.6" stroke="#555" stroke-width="0.8"/>
<line x1="10" y1="-5.6" x2="10" y2="5.6" stroke="#555" stroke-width="0.8"/>
<line x1="14" y1="-5.6" x2="14" y2="5.6" stroke="#555" stroke-width="0.8"/>
<ellipse cx="22.00" cy="0.00" rx="4.50" ry="3.00" transform="rotate(74.7 22.00 0.00)" fill="#aaa" stroke="#666" stroke-width="0.9" />
<ellipse cx="0.00" cy="0.00" rx="5.60" ry="3.80" transform="rotate(74.7 0.00 0.00)" fill="#8a8a8a" stroke="#555" stroke-width="1" />
</g>
<ellipse cx="1053.5" cy="204.5" rx="5" ry="3.4" transform="rotate(55 1053.5 204.5)" fill="none" stroke="#555" stroke-width="1.6"/>
<g transform="translate(1028,189.5) rotate(-24.7)">
<rect x="0" y="-3" width="13" height="6" fill="url(#gr)" stroke="#666" stroke-width="0.9"/>
<ellipse cx="13.00" cy="0.00" rx="4.50" ry="2.50" transform="rotate(74.7 13.00 0.00)" fill="#aaa" stroke="#666" stroke-width="0.9" />
<ellipse cx="0.00" cy="0.00" rx="3.00" ry="2.00" transform="rotate(74.7 0.00 0.00)" fill="#999" stroke="#666" stroke-width="0.9" />
</g>
<g transform="translate(1114.5,266) rotate(-24.7)">
<rect x="0" y="-9.8" width="15" height="19.6" fill="url(#gr)" stroke="#555" stroke-width="0.9"/>
<ellipse cx="15.00" cy="0.00" rx="9.80" ry="6.60" transform="rotate(74.7 15.00 0.00)" fill="#7a7a7a" stroke="#555" stroke-width="1" />
<ellipse cx="0.00" cy="0.00" rx="9.80" ry="6.80" transform="rotate(74.7 0.00 0.00)" fill="#777" stroke="#4e4e4e" stroke-width="1.2" />
<ellipse cx="0.50" cy="0.00" rx="7.50" ry="4.80" transform="rotate(74.7 0.50 0.00)" fill="#9a9a9a" stroke="none" stroke-width="1" />
</g>
<g transform="translate(741,440.5) rotate(-24.7)">
<rect x="0" y="-3.3" width="192" height="6.6" fill="url(#ltr)" stroke="#7e7e7e" stroke-width="0.8"/>
<line x1="112" y1="-3.3" x2="112" y2="3.3" stroke="#777" stroke-width="0.9"/>
<path d="M-7,-2.6 L1,-3.8 L16,-3.8 L16,3.8 L1,3.8 L-7,2.6 Z" fill="#c4c4c4" stroke="#777" stroke-width="0.8"/>
<line x1="7" y1="-3.8" x2="7" y2="3.8" stroke="#777" stroke-width="0.8"/>
<rect x="194" y="-5.2" width="92" height="10.4" fill="url(#ltr)" stroke="#7e7e7e" stroke-width="0.9"/>
<ellipse cx="194.00" cy="0.00" rx="8.20" ry="5.20" transform="rotate(74.7 194.00 0.00)" fill="#cfcfcf" stroke="#6e6e6e" stroke-width="1.1" />
<ellipse cx="193.50" cy="0.00" rx="4.20" ry="2.80" transform="rotate(74.7 193.50 0.00)" fill="#eaeaea" stroke="#888" stroke-width="0.8" />
<line x1="206" y1="-5.2" x2="206" y2="5.2" stroke="#777" stroke-width="1"/>
<line x1="210" y1="-5.2" x2="210" y2="5.2" stroke="#777" stroke-width="1"/>
<rect x="284" y="-6.2" width="104" height="12.4" fill="url(#ltr)" stroke="#7e7e7e" stroke-width="0.9"/>
<line x1="284" y1="-6.2" x2="284" y2="6.2" stroke="#707070" stroke-width="1.1"/>
<line x1="292" y1="-1" x2="372" y2="-1" stroke="#9a9a9a" stroke-width="0.7" stroke-dasharray="30 8"/>
<ellipse cx="388.00" cy="0.00" rx="6.20" ry="4.20" transform="rotate(74.7 388.00 0.00)" fill="#e8e8e8" stroke="#7a7a7a" stroke-width="0.9" />
<line x1="375" y1="-6.2" x2="375" y2="6.2" stroke="#888" stroke-width="0.8"/>
<circle cx="370" cy="-4" r="1" fill="#666"/>
</g>
<g transform="translate(253.8,312.6) rotate(-24.7)">
<rect x="0" y="-5.6" width="10" height="11.2" fill="url(#ltr)" stroke="#666" stroke-width="0.9"/>
<rect x="10" y="-8" width="6" height="16" fill="#a8a8a8" stroke="#555" stroke-width="0.9"/>
<ellipse cx="16.00" cy="0.00" rx="8.00" ry="5.40" transform="rotate(74.7 16.00 0.00)" fill="#b0b0b0" stroke="#555" stroke-width="0.9" />
<line x1="12" y1="-8" x2="12" y2="8" stroke="#666" stroke-width="0.9"/>
<rect x="17" y="-9" width="16" height="18" fill="url(#ltr)" stroke="#5e5e5e" stroke-width="0.9"/>
<ellipse cx="33.00" cy="0.00" rx="9.00" ry="6.00" transform="rotate(74.7 33.00 0.00)" fill="#d4d4d4" stroke="#555" stroke-width="1" />
<ellipse cx="17.00" cy="0.00" rx="9.00" ry="6.00" transform="rotate(74.7 17.00 0.00)" fill="#c4c4c4" stroke="#555" stroke-width="1" />
<rect x="10" y="-8" width="6" height="16" fill="#a8a8a8"/>
<ellipse cx="10.00" cy="0.00" rx="8.00" ry="5.40" transform="rotate(74.7 10.00 0.00)" fill="#b4b4b4" stroke="#555" stroke-width="0.9" />
<rect x="0" y="-5.6" width="10" height="11.2" fill="url(#ltr)"/>
<line x1="0" y1="-5.6" x2="10" y2="-5.6" stroke="#666" stroke-width="0.9"/>
<line x1="0" y1="5.6" x2="10" y2="5.6" stroke="#666" stroke-width="0.9"/>
<ellipse cx="0.00" cy="0.00" rx="5.80" ry="4.20" transform="rotate(74.7 0.00 0.00)" fill="#d0d0d0" stroke="#555" stroke-width="1.1" />
<ellipse cx="0.50" cy="0.00" rx="3.80" ry="2.60" transform="rotate(74.7 0.50 0.00)" fill="#f4f4f4" stroke="none" stroke-width="1" />
</g>
<ellipse cx="291.5" cy="295.8" rx="8" ry="5.8" transform="rotate(55 291.5 295.8)" fill="none" stroke="#4e4e4e" stroke-width="2.4"/>
<ellipse cx="291.5" cy="295.8" rx="8" ry="5.8" transform="rotate(55 291.5 295.8)" fill="none" stroke="#8a8a8a" stroke-width="0.8"/>
<g transform="translate(79,488) rotate(-24.7)">
<rect x="0" y="-11" width="11" height="22" fill="#9a9a9a" stroke="#666" stroke-width="0.9"/>
<ellipse cx="11.00" cy="0.00" rx="11.00" ry="7.80" transform="rotate(74.7 11.00 0.00)" fill="#a8a8a8" stroke="#666" stroke-width="1" />
<ellipse cx="0.00" cy="0.00" rx="11.20" ry="8.00" transform="rotate(74.7 0.00 0.00)" fill="#585858" stroke="#3e3e3e" stroke-width="1" />
<ellipse cx="0.00" cy="0.00" rx="7.50" ry="5.20" transform="rotate(74.7 0.00 0.00)" fill="#6a6a6a" stroke="#505050" stroke-width="0.8" />
<ellipse cx="0.00" cy="0.00" rx="3.00" ry="2.00" transform="rotate(74.7 0.00 0.00)" fill="#555" stroke="none" stroke-width="1" />
</g>
<ellipse cx="102.3" cy="475.2" rx="10" ry="7.2" transform="rotate(58 102.3 475.2)" fill="none" stroke="#4a4a4a" stroke-width="2"/>
<g transform="translate(262,574) rotate(-24.7)">
<rect x="0" y="-10.5" width="10" height="21" fill="#9a9a9a" stroke="#666" stroke-width="0.9"/>
<rect x="10" y="-5" width="8" height="10" fill="#8a8a8a" stroke="#555" stroke-width="0.9"/>
<ellipse cx="18.00" cy="0.00" rx="5.00" ry="3.50" transform="rotate(74.7 18.00 0.00)" fill="#777" stroke="#555" stroke-width="0.9" />
<ellipse cx="10.00" cy="0.00" rx="10.50" ry="7.20" transform="rotate(74.7 10.00 0.00)" fill="#a8a8a8" stroke="#666" stroke-width="1" />
<rect x="10" y="-5" width="8" height="10" fill="#8a8a8a"/>
<ellipse cx="18.00" cy="0.00" rx="5.00" ry="3.50" transform="rotate(74.7 18.00 0.00)" fill="#777" stroke="#555" stroke-width="0.9" />
<ellipse cx="0.00" cy="0.00" rx="10.80" ry="7.60" transform="rotate(74.7 0.00 0.00)" fill="#585858" stroke="#3e3e3e" stroke-width="1" />
<ellipse cx="0.00" cy="0.00" rx="7.00" ry="4.90" transform="rotate(74.7 0.00 0.00)" fill="#6a6a6a" stroke="#505050" stroke-width="0.8" />
<ellipse cx="0.00" cy="0.00" rx="2.80" ry="1.90" transform="rotate(74.7 0.00 0.00)" fill="#555" stroke="none" stroke-width="1" />
</g>
<ellipse cx="287" cy="561.5" rx="9.5" ry="6.8" transform="rotate(58 287 561.5)" fill="none" stroke="#4a4a4a" stroke-width="2"/>
<ellipse cx="484.7" cy="297.5" rx="16.2" ry="13.2" transform="rotate(50 484.7 297.5)" fill="#4a4a4a" stroke="#383838" stroke-width="0.9"/>
<ellipse cx="484.09999999999997" cy="297.7" rx="12.96" ry="9.239999999999998" transform="rotate(52 484.09999999999997 297.7)" fill="none" stroke="#6a6a6a" stroke-width="1"/>
<ellipse cx="483.5" cy="298.1" rx="10.043999999999999" ry="4.356" transform="rotate(56 483.5 298.1)" fill="#fff" stroke="none" stroke-width="1"/>
<g transform="translate(507,287) scale(1.0)">
<path d="M-5,-13 C-1,-16 7,-14 11,-8 C14,-3 14,2 12,5" fill="none" stroke="#555" stroke-width="1.3"/>
<path d="M-5,-13 C-12,-9 -11,2 -5,8 C0,13 5,14 8,12 L12,9" fill="none" stroke="#555" stroke-width="1.3"/>
<path d="M-11,-6 L-8,-7" stroke="#333" stroke-width="1.5"/>
</g>
<ellipse cx="530" cy="276.5" rx="15.8" ry="12.8" transform="rotate(50 530 276.5)" fill="#474747" stroke="#383838" stroke-width="0.9"/>
<ellipse cx="529.4" cy="276.7" rx="12.64" ry="8.959999999999999" transform="rotate(52 529.4 276.7)" fill="none" stroke="#6a6a6a" stroke-width="1"/>
<ellipse cx="528.8" cy="277.1" rx="9.796000000000001" ry="4.224" transform="rotate(56 528.8 277.1)" fill="#fff" stroke="none" stroke-width="1"/>
<g transform="translate(551.8,266) rotate(-24.7)">
<ellipse cx="0.00" cy="0.00" rx="14.20" ry="9.40" transform="rotate(74.7 0.00 0.00)" fill="none" stroke="#4e4e4e" stroke-width="4" />
<ellipse cx="0.00" cy="0.00" rx="14.20" ry="9.40" transform="rotate(74.7 0.00 0.00)" fill="none" stroke="#777" stroke-width="2.4" />
</g>
<g transform="translate(581.9,252) rotate(-24.7)">
<rect x="-4.5" y="-12.608" width="9" height="25.216" fill="#989898"/>
<line x1="-4.5" y1="-12.608" x2="4.5" y2="-12.608" stroke="#555" stroke-width="1"/>
<line x1="-4.5" y1="12.608" x2="4.5" y2="12.608" stroke="#555" stroke-width="1"/>
<ellipse cx="4.50" cy="0.00" rx="12.80" ry="8.45" transform="rotate(74.7 4.50 0.00)" fill="#989898" stroke="#555" stroke-width="1.1" />
<line x1="-3.5" y1="-3.84" x2="4.5" y2="-3.84" stroke="#bdbdbd" stroke-width="1.2"/>
<ellipse cx="-4.50" cy="0.00" rx="12.80" ry="8.45" transform="rotate(74.7 -4.50 0.00)" fill="#a4a4a4" stroke="#555" stroke-width="1.1" />
<ellipse cx="-4.20" cy="0.00" rx="11.01" ry="6.76" transform="rotate(74.7 -4.20 0.00)" fill="#8a8a8a" stroke="none" stroke-width="1" />
<ellipse cx="-1.70" cy="0.00" rx="8.96" ry="4.22" transform="rotate(74.7 -1.70 0.00)" fill="#f6f6f6" stroke="none" stroke-width="1" />
</g>
<g transform="translate(617.3,235.8) rotate(-24.7)">
<rect x="-5.5" y="-12.017" width="11" height="24.034" fill="#a4a4a4"/>
<line x1="-5.5" y1="-12.017" x2="5.5" y2="-12.017" stroke="#555" stroke-width="1"/>
<line x1="-5.5" y1="12.017" x2="5.5" y2="12.017" stroke="#555" stroke-width="1"/>
<ellipse cx="5.50" cy="0.00" rx="12.20" ry="8.05" transform="rotate(74.7 5.50 0.00)" fill="#a4a4a4" stroke="#555" stroke-width="1.1" />
<line x1="0" y1="-11.956" x2="0" y2="11.956" stroke="#6a6a6a" stroke-width="0.9"/>
<line x1="2.5" y1="-11.956" x2="2.5" y2="11.956" stroke="#6a6a6a" stroke-width="0.9"/>
<line x1="5" y1="-11.956" x2="5" y2="11.956" stroke="#6a6a6a" stroke-width="0.9"/>
<line x1="-4.5" y1="-3.6599999999999997" x2="5.5" y2="-3.6599999999999997" stroke="#bdbdbd" stroke-width="1.2"/>
<ellipse cx="-5.50" cy="0.00" rx="12.20" ry="8.05" transform="rotate(74.7 -5.50 0.00)" fill="#a4a4a4" stroke="#555" stroke-width="1.1" />
<ellipse cx="-5.20" cy="0.00" rx="10.49" ry="6.44" transform="rotate(74.7 -5.20 0.00)" fill="#8a8a8a" stroke="none" stroke-width="1" />
<ellipse cx="-2.70" cy="0.00" rx="8.54" ry="4.03" transform="rotate(74.7 -2.70 0.00)" fill="#f6f6f6" stroke="none" stroke-width="1" />
</g>
<ellipse cx="668.8" cy="383.7" rx="16.2" ry="13.2" transform="rotate(50 668.8 383.7)" fill="#4a4a4a" stroke="#383838" stroke-width="0.9"/>
<ellipse cx="668.1999999999999" cy="383.9" rx="12.96" ry="9.239999999999998" transform="rotate(52 668.1999999999999 383.9)" fill="none" stroke="#6a6a6a" stroke-width="1"/>
<ellipse cx="667.5999999999999" cy="384.3" rx="10.043999999999999" ry="4.356" transform="rotate(56 667.5999999999999 384.3)" fill="#fff" stroke="none" stroke-width="1"/>
<g transform="translate(693.5,372) scale(1.0)">
<path d="M-5,-13 C-1,-16 7,-14 11,-8 C14,-3 14,2 12,5" fill="none" stroke="#555" stroke-width="1.3"/>
<path d="M-5,-13 C-12,-9 -11,2 -5,8 C0,13 5,14 8,12 L12,9" fill="none" stroke="#555" stroke-width="1.3"/>
<path d="M-11,-6 L-8,-7" stroke="#333" stroke-width="1.5"/>
</g>
<ellipse cx="714" cy="363.2" rx="15.5" ry="12.6" transform="rotate(50 714 363.2)" fill="#474747" stroke="#383838" stroke-width="0.9"/>
<ellipse cx="713.4" cy="363.4" rx="12.4" ry="8.819999999999999" transform="rotate(52 713.4 363.4)" fill="none" stroke="#6a6a6a" stroke-width="1"/>
<ellipse cx="712.8" cy="363.8" rx="9.61" ry="4.158" transform="rotate(56 712.8 363.8)" fill="#fff" stroke="none" stroke-width="1"/>
<g transform="translate(736.7,351.5) rotate(-24.7)">
<ellipse cx="0.00" cy="0.00" rx="14.20" ry="9.40" transform="rotate(74.7 0.00 0.00)" fill="none" stroke="#4e4e4e" stroke-width="4" />
<ellipse cx="0.00" cy="0.00" rx="14.20" ry="9.40" transform="rotate(74.7 0.00 0.00)" fill="none" stroke="#777" stroke-width="2.4" />
</g>
<g transform="translate(766.6,337.5) rotate(-24.7)">
<rect x="-4.5" y="-12.608" width="9" height="25.216" fill="#989898"/>
<line x1="-4.5" y1="-12.608" x2="4.5" y2="-12.608" stroke="#555" stroke-width="1"/>
<line x1="-4.5" y1="12.608" x2="4.5" y2="12.608" stroke="#555" stroke-width="1"/>
<ellipse cx="4.50" cy="0.00" rx="12.80" ry="8.45" transform="rotate(74.7 4.50 0.00)" fill="#989898" stroke="#555" stroke-width="1.1" />
<line x1="-3.5" y1="-3.84" x2="4.5" y2="-3.84" stroke="#bdbdbd" stroke-width="1.2"/>
<ellipse cx="-4.50" cy="0.00" rx="12.80" ry="8.45" transform="rotate(74.7 -4.50 0.00)" fill="#a4a4a4" stroke="#555" stroke-width="1.1" />
<ellipse cx="-4.20" cy="0.00" rx="11.01" ry="6.76" transform="rotate(74.7 -4.20 0.00)" fill="#8a8a8a" stroke="none" stroke-width="1" />
<ellipse cx="-1.70" cy="0.00" rx="8.96" ry="4.22" transform="rotate(74.7 -1.70 0.00)" fill="#f6f6f6" stroke="none" stroke-width="1" />
</g>
<g transform="translate(802,321.6) rotate(-24.7)">
<rect x="-5.5" y="-12.017" width="11" height="24.034" fill="#a4a4a4"/>
<line x1="-5.5" y1="-12.017" x2="5.5" y2="-12.017" stroke="#555" stroke-width="1"/>
<line x1="-5.5" y1="12.017" x2="5.5" y2="12.017" stroke="#555" stroke-width="1"/>
<ellipse cx="5.50" cy="0.00" rx="12.20" ry="8.05" transform="rotate(74.7 5.50 0.00)" fill="#a4a4a4" stroke="#555" stroke-width="1.1" />
<line x1="0" y1="-11.956" x2="0" y2="11.956" stroke="#6a6a6a" stroke-width="0.9"/>
<line x1="2.5" y1="-11.956" x2="2.5" y2="11.956" stroke="#6a6a6a" stroke-width="0.9"/>
<line x1="5" y1="-11.956" x2="5" y2="11.956" stroke="#6a6a6a" stroke-width="0.9"/>
<line x1="-4.5" y1="-3.6599999999999997" x2="5.5" y2="-3.6599999999999997" stroke="#bdbdbd" stroke-width="1.2"/>
<ellipse cx="-5.50" cy="0.00" rx="12.20" ry="8.05" transform="rotate(74.7 -5.50 0.00)" fill="#a4a4a4" stroke="#555" stroke-width="1.1" />
<ellipse cx="-5.20" cy="0.00" rx="10.49" ry="6.44" transform="rotate(74.7 -5.20 0.00)" fill="#8a8a8a" stroke="none" stroke-width="1" />
<ellipse cx="-2.70" cy="0.00" rx="8.54" ry="4.03" transform="rotate(74.7 -2.70 0.00)" fill="#f6f6f6" stroke="none" stroke-width="1" />
</g>
<ellipse cx="942.4" cy="533.5" rx="10" ry="7" transform="rotate(60 942.4 533.5)" fill="none" stroke="#6e6e6e" stroke-width="2"/>
<ellipse cx="1029.2" cy="573.2" rx="10" ry="7" transform="rotate(60 1029.2 573.2)" fill="none" stroke="#6e6e6e" stroke-width="2"/>
<ellipse cx="971" cy="519.1" rx="4.5" ry="3" transform="rotate(60 971 519.1)" fill="none" stroke="#555" stroke-width="1.5"/>
<ellipse cx="1056.4" cy="559.3" rx="4.5" ry="3" transform="rotate(60 1056.4 559.3)" fill="none" stroke="#555" stroke-width="1.5"/>
<line x1="30" y1="471.8" x2="35" y2="478.4" stroke="#7a7a7a" stroke-width="0.95"/>
<polygon points="33.6,477.7 33.6,487.2 43.8,482.8" fill="#222"/>
<ellipse cx="24.1" cy="463.8" rx="10.5" ry="8.4" fill="#fff" stroke="#8a8a8a" stroke-width="1.2"/>
<text x="24.1" y="468.30" font-size="12.5" font-weight="bold" text-anchor="middle" fill="#444">2</text>
<line x1="78.9" y1="449.5" x2="95" y2="466.7" stroke="#7a7a7a" stroke-width="0.95"/>
<polygon points="95.0,466.7 89.0,462.8 91.5,460.4" fill="#3a3a3a"/>
<polygon points="61.5,440 67.25,430.0 78.75,430.0 84.5,440 78.75,450.0 67.25,450.0" fill="#fff" stroke="#8a8a8a" stroke-width="1.2"/>
<text x="73" y="444.50" font-size="12.5" font-weight="bold" text-anchor="middle" fill="#444">A</text>
<line x1="275.8" y1="598.7" x2="285.4" y2="611" stroke="#7a7a7a" stroke-width="0.95"/>
<polygon points="266.2,594.2 276.6,591.4 275.8,599.5" fill="#222"/>
<ellipse cx="290.3" cy="619.2" rx="10.5" ry="8.4" fill="#fff" stroke="#8a8a8a" stroke-width="1.2"/>
<text x="290.3" y="623.70" font-size="12.5" font-weight="bold" text-anchor="middle" fill="#444">1</text>
<line x1="337" y1="585.8" x2="296.7" y2="568" stroke="#7a7a7a" stroke-width="0.95"/>
<polygon points="296.7,568.0 303.8,569.3 302.4,572.4" fill="#3a3a3a"/>
<polygon points="336.3,590.6 342.55,581.1 355.05,581.1 361.3,590.6 355.05,600.1 342.55,600.1" fill="#fff" stroke="#8a8a8a" stroke-width="1.2"/>
<text x="348.8" y="595.10" font-size="12.5" font-weight="bold" text-anchor="middle" fill="#444">A</text>
<line x1="225.8" y1="274.3" x2="238.2" y2="292.6" stroke="#7a7a7a" stroke-width="0.95"/>
<polygon points="238.2,291.8 238.2,299.9 247.7,295.5" fill="#222"/>
<ellipse cx="220.4" cy="267" rx="11" ry="8.8" fill="#fff" stroke="#8a8a8a" stroke-width="1.2"/>
<text x="220.4" y="271.50" font-size="12.5" font-weight="bold" text-anchor="middle" fill="#444">5</text>
<ellipse cx="195.3" cy="374.1" rx="10.5" ry="8.4" fill="#fff" stroke="#8a8a8a" stroke-width="1.2"/>
<text x="195.3" y="378.60" font-size="12.5" font-weight="bold" text-anchor="middle" fill="#444">4</text>
<line x1="204.7" y1="380" x2="240.7" y2="397.3" stroke="#7a7a7a" stroke-width="0.95"/>
<polygon points="240.7,397.3 233.7,395.8 235.1,392.7" fill="#3a3a3a"/>
<ellipse cx="503.9" cy="519.3" rx="10.5" ry="8.4" fill="#fff" stroke="#8a8a8a" stroke-width="1.2"/>
<text x="503.9" y="523.80" font-size="12.5" font-weight="bold" text-anchor="middle" fill="#444">3</text>
<line x1="492.9" y1="515.1" x2="453" y2="497.3" stroke="#7a7a7a" stroke-width="0.95"/>
<polygon points="453.0,497.3 460.1,498.6 458.7,501.7" fill="#3a3a3a"/>
<ellipse cx="449.6" cy="157" rx="10.5" ry="8.4" fill="#fff" stroke="#8a8a8a" stroke-width="1.2"/>
<text x="449.6" y="161.50" font-size="12.5" font-weight="bold" text-anchor="middle" fill="#444">6</text>
<line x1="460" y1="162" x2="507" y2="185" stroke="#7a7a7a" stroke-width="0.95"/>
<polygon points="507.0,185.0 500.0,183.5 501.5,180.4" fill="#3a3a3a"/>
<ellipse cx="676.6" cy="50.8" rx="10.5" ry="8.4" fill="#fff" stroke="#8a8a8a" stroke-width="1.2"/>
<text x="676.6" y="55.30" font-size="12.5" font-weight="bold" text-anchor="middle" fill="#444">8</text>
<line x1="686" y1="55" x2="739.8" y2="78.6" stroke="#7a7a7a" stroke-width="0.95"/>
<polygon points="739.8,78.6 732.7,77.3 734.1,74.2" fill="#3a3a3a"/>
<ellipse cx="631.1" cy="74.5" rx="10.5" ry="8.4" fill="#fff" stroke="#8a8a8a" stroke-width="1.2"/>
<text x="631.1" y="79.00" font-size="12.5" font-weight="bold" text-anchor="middle" fill="#444">7</text>
<line x1="635.7" y1="81.8" x2="648.1" y2="99.3" stroke="#7a7a7a" stroke-width="0.95"/>
<polygon points="648.1,99.3 648.1,108.1 658,103.7" fill="#222"/>
<ellipse cx="541.5" cy="113.2" rx="10.5" ry="8.4" fill="#fff" stroke="#8a8a8a" stroke-width="1.2"/>
<text x="541.5" y="117.70" font-size="12.5" font-weight="bold" text-anchor="middle" fill="#444">22</text>
<line x1="551" y1="118" x2="601.2" y2="141.5" stroke="#7a7a7a" stroke-width="0.95"/>
<polygon points="601.2,141.5 594.1,140.1 595.6,137.0" fill="#3a3a3a"/>
<ellipse cx="857.5" cy="73.5" rx="10.5" ry="8.4" fill="#fff" stroke="#8a8a8a" stroke-width="1.2"/>
<text x="857.5" y="78.00" font-size="12.5" font-weight="bold" text-anchor="middle" fill="#444">10</text>
<line x1="863.4" y1="81.2" x2="871.8" y2="93.6" stroke="#7a7a7a" stroke-width="0.95"/>
<polygon points="871.8,93.6 871.8,102 880.5,97.6" fill="#222"/>
<polygon points="790.5,93.8 796.75,84.3 809.25,84.3 815.5,93.8 809.25,103.3 796.75,103.3" fill="#fff" stroke="#8a8a8a" stroke-width="1.2"/>
<text x="803" y="98.30" font-size="12.5" font-weight="bold" text-anchor="middle" fill="#444">B</text>
<line x1="815.7" y1="99.3" x2="853" y2="117.5" stroke="#7a7a7a" stroke-width="0.95"/>
<polygon points="853.0,117.5 846.0,116.0 847.5,112.9" fill="#3a3a3a"/>
<ellipse cx="853" cy="180" rx="10.5" ry="8.4" fill="#fff" stroke="#8a8a8a" stroke-width="1.2"/>
<text x="853" y="184.50" font-size="12.5" font-weight="bold" text-anchor="middle" fill="#444">9</text>
<line x1="843.6" y1="176.6" x2="808.4" y2="163.2" stroke="#7a7a7a" stroke-width="0.95"/>
<polygon points="808.4,163.2 815.5,164.1 814.3,167.3" fill="#3a3a3a"/>
<ellipse cx="895.2" cy="223.6" rx="10.5" ry="8.4" fill="#fff" stroke="#8a8a8a" stroke-width="1.2"/>
<text x="895.2" y="228.10" font-size="12.5" font-weight="bold" text-anchor="middle" fill="#444">17</text>
<line x1="906.5" y1="228.9" x2="937.8" y2="242.8" stroke="#7a7a7a" stroke-width="0.95"/>
<polygon points="937.8,242.8 930.7,241.5 932.1,238.4" fill="#3a3a3a"/>
<ellipse cx="1001.9" cy="166.3" rx="10.5" ry="8.4" fill="#fff" stroke="#8a8a8a" stroke-width="1.2"/>
<text x="1001.9" y="170.80" font-size="12.5" font-weight="bold" text-anchor="middle" fill="#444">18</text>
<line x1="1010" y1="172" x2="1027" y2="182" stroke="#7a7a7a" stroke-width="0.95"/>
<polygon points="1027.0,182.0 1020.1,179.9 1021.8,177.0" fill="#3a3a3a"/>
<ellipse cx="1113" cy="157.5" rx="10.9" ry="8.7" fill="#fff" stroke="#8a8a8a" stroke-width="1.2"/>
<text x="1113" y="162.00" font-size="12.5" font-weight="bold" text-anchor="middle" fill="#444">19</text>
<line x1="1108.3" y1="165" x2="1097.8" y2="179.4" stroke="#7a7a7a" stroke-width="0.95"/>
<polygon points="1089.5,182.9 1097.8,179.4 1097.8,186.8" fill="#222"/>
<polygon points="1088.6,227.3 1094.6,217.8 1106.6,217.8 1112.6,227.3 1106.6,236.8 1094.6,236.8" fill="#fff" stroke="#8a8a8a" stroke-width="1.2"/>
<text x="1100.6" y="231.80" font-size="12.5" font-weight="bold" text-anchor="middle" fill="#444">B</text>
<line x1="1089.4" y1="223.1" x2="1059.6" y2="209.5" stroke="#7a7a7a" stroke-width="0.95"/>
<polygon points="1059.6,209.5 1066.7,210.9 1065.3,214.0" fill="#3a3a3a"/>
<ellipse cx="1178.7" cy="290.1" rx="10.5" ry="8.4" fill="#fff" stroke="#8a8a8a" stroke-width="1.2"/>
<text x="1178.7" y="294.60" font-size="12.5" font-weight="bold" text-anchor="middle" fill="#444">20</text>
<line x1="1168.8" y1="285.2" x2="1137.8" y2="271.5" stroke="#7a7a7a" stroke-width="0.95"/>
<polygon points="1137.8,271.5 1144.9,272.8 1143.5,275.9" fill="#3a3a3a"/>
<ellipse cx="1073" cy="347.8" rx="10.5" ry="8.4" fill="#fff" stroke="#8a8a8a" stroke-width="1.2"/>
<text x="1073" y="352.30" font-size="12.5" font-weight="bold" text-anchor="middle" fill="#444">21</text>
<line x1="1057.6" y1="326.3" x2="1067.7" y2="340.3" stroke="#7a7a7a" stroke-width="0.95"/>
<polygon points="1048,321.5 1057.6,318 1057.6,326.3" fill="#222"/>
<ellipse cx="716.1" cy="278.7" rx="10.5" ry="8.4" fill="#fff" stroke="#8a8a8a" stroke-width="1.2"/>
<text x="716.1" y="283.20" font-size="12.5" font-weight="bold" text-anchor="middle" fill="#444">16</text>
<ellipse cx="672.5" cy="296.2" rx="10.5" ry="8.4" fill="#fff" stroke="#8a8a8a" stroke-width="1.2"/>
<text x="672.5" y="300.70" font-size="12.5" font-weight="bold" text-anchor="middle" fill="#444">15</text>
<ellipse cx="644.5" cy="309.7" rx="10.5" ry="8.4" fill="#fff" stroke="#8a8a8a" stroke-width="1.2"/>
<text x="644.5" y="314.20" font-size="12.5" font-weight="bold" text-anchor="middle" fill="#444">14</text>
<ellipse cx="622.3" cy="319.5" rx="10.5" ry="8.4" fill="#fff" stroke="#8a8a8a" stroke-width="1.2"/>
<text x="622.3" y="324.00" font-size="12.5" font-weight="bold" text-anchor="middle" fill="#444">13</text>
<ellipse cx="600.2" cy="330" rx="10.5" ry="8.4" fill="#fff" stroke="#8a8a8a" stroke-width="1.2"/>
<text x="600.2" y="334.50" font-size="12.5" font-weight="bold" text-anchor="middle" fill="#444">12</text>
<ellipse cx="572.2" cy="342.8" rx="10.5" ry="8.4" fill="#fff" stroke="#8a8a8a" stroke-width="1.2"/>
<text x="572.2" y="347.30" font-size="12.5" font-weight="bold" text-anchor="middle" fill="#444">11</text>
<line x1="706" y1="274" x2="634.2" y2="242.8" stroke="#7a7a7a" stroke-width="0.95"/>
<polygon points="634.2,242.8 641.3,244.0 639.9,247.1" fill="#3a3a3a"/>
<line x1="662" y1="291" x2="597.5" y2="261.2" stroke="#7a7a7a" stroke-width="0.95"/>
<polygon points="597.5,261.2 604.6,262.6 603.1,265.7" fill="#3a3a3a"/>
<line x1="634" y1="305" x2="568.6" y2="273.4" stroke="#7a7a7a" stroke-width="0.95"/>
<polygon points="568.6,273.4 575.6,274.9 574.2,278.0" fill="#3a3a3a"/>
<line x1="612" y1="315" x2="546.7" y2="284.8" stroke="#7a7a7a" stroke-width="0.95"/>
<polygon points="546.7,284.8 553.8,286.2 552.3,289.3" fill="#3a3a3a"/>
<line x1="590" y1="325" x2="496.8" y2="282.2" stroke="#7a7a7a" stroke-width="0.95"/>
<polygon points="496.8,282.2 503.9,283.6 502.5,286.7" fill="#3a3a3a"/>
<line x1="562" y1="338" x2="500.3" y2="309.3" stroke="#7a7a7a" stroke-width="0.95"/>
<polygon points="500.3,309.3 507.4,310.7 505.9,313.8" fill="#3a3a3a"/>
<line x1="725" y1="283.3" x2="792.7" y2="311.3" stroke="#7a7a7a" stroke-width="0.95"/>
<polygon points="792.7,311.3 785.6,310.2 786.9,307.1" fill="#3a3a3a"/>
<line x1="681.8" y1="300.8" x2="751.8" y2="332.3" stroke="#7a7a7a" stroke-width="0.95"/>
<polygon points="751.8,332.3 744.7,331.0 746.1,327.9" fill="#3a3a3a"/>
<line x1="653.8" y1="314.8" x2="722.7" y2="344" stroke="#7a7a7a" stroke-width="0.95"/>
<polygon points="722.7,344.0 715.6,342.8 716.9,339.7" fill="#3a3a3a"/>
<line x1="631.7" y1="324.2" x2="699.3" y2="354.5" stroke="#7a7a7a" stroke-width="0.95"/>
<polygon points="699.3,354.5 692.2,353.2 693.6,350.1" fill="#3a3a3a"/>
<line x1="609.5" y1="334.7" x2="704" y2="376.7" stroke="#7a7a7a" stroke-width="0.95"/>
<polygon points="704.0,376.7 696.9,375.4 698.3,372.3" fill="#3a3a3a"/>
<line x1="582.7" y1="348.7" x2="652.7" y2="379" stroke="#7a7a7a" stroke-width="0.95"/>
<polygon points="652.7,379.0 645.6,377.8 647.0,374.7" fill="#3a3a3a"/>
<ellipse cx="830.4" cy="523" rx="11.7" ry="9.6" fill="#fff" stroke="#8a8a8a" stroke-width="1.2"/>
<text x="830.4" y="528.22" font-size="14.5" font-weight="bold" text-anchor="middle" fill="#444">23</text>
<line x1="841.9" y1="523.3" x2="890.5" y2="523.3" stroke="#7a7a7a" stroke-width="0.95"/>
<polygon points="890.5,523 901.6,518.3 901.6,528" fill="#222"/>
<polygon points="1019.5,476.1 1025.75,466.40000000000003 1038.25,466.40000000000003 1044.5,476.1 1038.25,485.8 1025.75,485.8" fill="#fff" stroke="#8a8a8a" stroke-width="1.2"/>
<text x="1032" y="480.60" font-size="12.5" font-weight="bold" text-anchor="middle" fill="#444">B</text>
<polygon points="930.7,634.8 937.2,625.0999999999999 950.2,625.0999999999999 956.7,634.8 950.2,644.5 937.2,644.5" fill="#fff" stroke="#8a8a8a" stroke-width="1.2"/>
<text x="943.7" y="639.30" font-size="12.5" font-weight="bold" text-anchor="middle" fill="#444">A</text>
<line x1="943.7" y1="625" x2="943.7" y2="543.5" stroke="#7a7a7a" stroke-width="0.95"/>
<polygon points="943.7,543.5 945.4,550.5 942.0,550.5" fill="#3a3a3a"/>
<line x1="951.5" y1="627.9" x2="1022.3" y2="577.9" stroke="#7a7a7a" stroke-width="0.95"/>
<polygon points="1022.3,577.9 1017.6,583.3 1015.6,580.5" fill="#3a3a3a"/>
<line x1="1023.7" y1="483.6" x2="976.5" y2="515.5" stroke="#7a7a7a" stroke-width="0.95"/>
<polygon points="976.5,515.5 981.3,510.2 983.3,513.0" fill="#3a3a3a"/>
<line x1="1034.2" y1="486.4" x2="1054.2" y2="554.3" stroke="#7a7a7a" stroke-width="0.95"/>
<polygon points="1054.2,554.3 1050.6,548.1 1053.9,547.1" fill="#3a3a3a"/>
</svg>
</body></html>
